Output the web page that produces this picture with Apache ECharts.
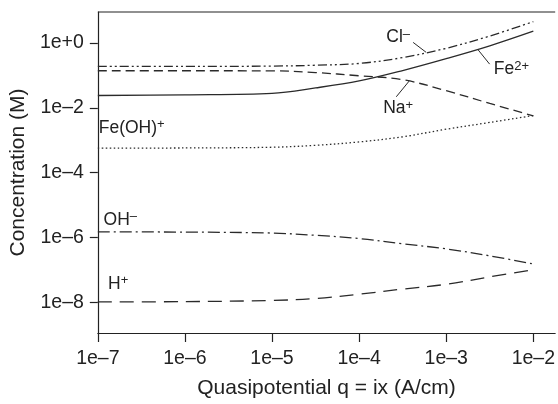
<!DOCTYPE html>
<html>
<head>
<meta charset="utf-8">
<script src="https://cdn.jsdelivr.net/npm/echarts@6/dist/echarts.min.js"></script>
<style>
html,body{margin:0;padding:0;background:#fff;}
#chart{width:558px;height:404px;}
</style>
</head>
<body>
<div id="chart"></div>
<script>
// Quasipotential q (A/cm)
const qValues = [1e-7, 1e-6, 1e-5, 3.162e-5, 1e-4, 3.162e-4, 1e-3, 3.162e-3, 1e-2];
// Concentrations (M)
const clValues   = [0.19, 0.19, 0.195, 0.207, 0.235, 0.357, 0.69, 1.65, 4.6];
const naValues   = [0.14, 0.14, 0.139, 0.123, 0.098, 0.074, 0.034, 0.0137, 0.0057];
const fe2Values  = [0.0241, 0.0253, 0.0281, 0.0414, 0.0678, 0.1416, 0.33, 0.82, 2.32];
const feohValues = [5.7e-4, 5.8e-4, 6.1e-4, 7.0e-4, 8.9e-4, 1.28e-3, 2.2e-3, 3.55e-3, 5.8e-3];
const ohValues   = [1.49e-6, 1.47e-6, 1.37e-6, 1.17e-6, 9.3e-7, 6.4e-7, 4.46e-7, 2.72e-7, 1.53e-7];
const hValues    = [1.03e-8, 1.05e-8, 1.14e-8, 1.31e-8, 1.78e-8, 2.56e-8, 3.6e-8, 6.1e-8, 1.02e-7];

const xTickValues = [1e-7, 1e-6, 1e-5, 1e-4, 1e-3, 1e-2];
const xTickLabels = ['1e–7', '1e–6', '1e–5', '1e–4', '1e–3', '1e–2'];
const yTickValues = [1e-8, 1e-6, 1e-4, 1e-2, 1];
const yTickLabels = ['1e–8', '1e–6', '1e–4', '1e–2', '1e+0'];

const FONT = '"Liberation Sans", Arial, Helvetica, sans-serif';
const LINE = '#2a2a2a';
const AXIS = '#222';
const xMin = 1e-7, xMax = 0.01782, yMin = 1.13e-9, yMax = 9.1;

function pairs(ys) { return qValues.map((q, i) => [q, ys[i]]); }
function fmt(ticks, labels) {
  return function (v) {
    for (let i = 0; i < ticks.length; i++) {
      if (Math.abs(Math.log10(v) - Math.log10(ticks[i])) < 1e-6) return labels[i];
    }
    return '';
  };
}

const rich = {
  b: { fontSize: 17.5, fontFamily: FONT, color: '#222', lineHeight: 20 },
  s: { fontSize: 13, fontFamily: FONT, color: '#222', lineHeight: 12, verticalAlign: 'top' }
};

function annot(text, coord, leader) {
  const o = {
    markPoint: {
      silent: true, animation: false,
      symbol: 'circle', symbolSize: 1,
      itemStyle: { color: 'rgba(0,0,0,0)' },
      label: { show: true, position: 'inside', formatter: text, rich: rich },
      data: [{ coord: coord }]
    }
  };
  if (leader) {
    o.markLine = {
      silent: true, animation: false, symbol: 'none',
      lineStyle: { type: 'solid', color: LINE, width: 1 },
      label: { show: false },
      data: [[{ coord: leader[0] }, { coord: leader[1] }]]
    };
  }
  return o;
}

function series(name, ys, dash, ann) {
  return Object.assign({
    name: name, type: 'line', data: pairs(ys), smooth: 0.35,
    showSymbol: false, symbol: 'none', animation: false,
    lineStyle: { color: LINE, width: 1.3, type: dash }
  }, ann);
}

const chart = echarts.init(document.getElementById('chart'), null, { renderer: 'canvas' });
chart.setOption({
  backgroundColor: '#fff',
  animation: false,
  grid: { left: 97.5, top: 12, bottom: 67, right: 0, show: false },
  xAxis: {
    type: 'log', logBase: 10, min: xMin, max: xMax,
    name: 'Quasipotential q = ix (A/cm)', nameLocation: 'middle', nameGap: 45,
    nameTextStyle: { fontSize: 21, fontFamily: FONT, color: '#222', verticalAlign: 'top' },
    axisLine: { show: true, onZero: false, lineStyle: { color: AXIS, width: 1.2 } },
    axisTick: { show: true, length: 9, inside: false, lineStyle: { color: AXIS, width: 1.2 }, customValues: xTickValues },
    axisLabel: { fontSize: 19.5, fontFamily: FONT, color: '#222', margin: 16, formatter: fmt(xTickValues, xTickLabels), customValues: xTickValues },
    splitLine: { show: false }, minorTick: { show: false }
  },
  yAxis: {
    type: 'log', logBase: 10, min: yMin, max: yMax,
    name: 'Concentration (M)', nameLocation: 'middle', nameGap: 60, nameRotate: 90,
    nameTextStyle: { fontSize: 21, fontFamily: FONT, color: '#222' },
    axisLine: { show: true, onZero: false, lineStyle: { color: AXIS, width: 1.2 } },
    axisTick: { show: true, length: 8, inside: false, lineStyle: { color: AXIS, width: 1.2 }, customValues: yTickValues },
    axisLabel: { fontSize: 19.5, fontFamily: FONT, color: '#222', margin: 14, formatter: fmt(yTickValues, yTickLabels), customValues: yTickValues },
    splitLine: { show: false }, minorTick: { show: false }
  },
  series: [
    series('Cl-', clValues, [9, 3, 2, 3, 2, 3], annot('{b|Cl}{s|–}', [2.81e-4, 1.49], [[4.17e-4, 1.05], [5.87e-4, 0.52]])),
    series('Na+', naValues, [9, 5], annot('{b|Na}{s|+}', [2.81e-4, 9.46e-3], [[2.67e-4, 0.022], [3.76e-4, 0.0677]])),
    series('Fe2+', fe2Values, 'solid', annot('{b|Fe}{s|2+}', [5.61e-3, 0.152], [[2.3e-3, 0.64], [3.15e-3, 0.224]])),
    series('Fe(OH)+', feohValues, [1.5, 2.5], annot('{b|Fe(OH)}{s|+}', [2.45e-7, 2.4e-3])),
    series('OH-', ohValues, [12, 4, 2, 4], annot('{b|OH}{s|–}', [1.81e-7, 3.47e-6])),
    series('H+', hValues, [14, 8], annot('{b|H}{s|+}', [1.71e-7, 3.6e-8]))
  ]
});

// top frame line of the plot box, positioned by the library's scales
const p0 = chart.convertToPixel({ gridIndex: 0 }, [xMin, yMax]);
const p1 = chart.convertToPixel({ gridIndex: 0 }, [xMax, yMax]);
chart.setOption({
  graphic: [{
    type: 'line', silent: true, z: 10,
    shape: { x1: p0[0], y1: p0[1], x2: p1[0], y2: p1[1] },
    style: { stroke: AXIS, lineWidth: 1.2 }
  }]
});
</script>
</body>
</html>
